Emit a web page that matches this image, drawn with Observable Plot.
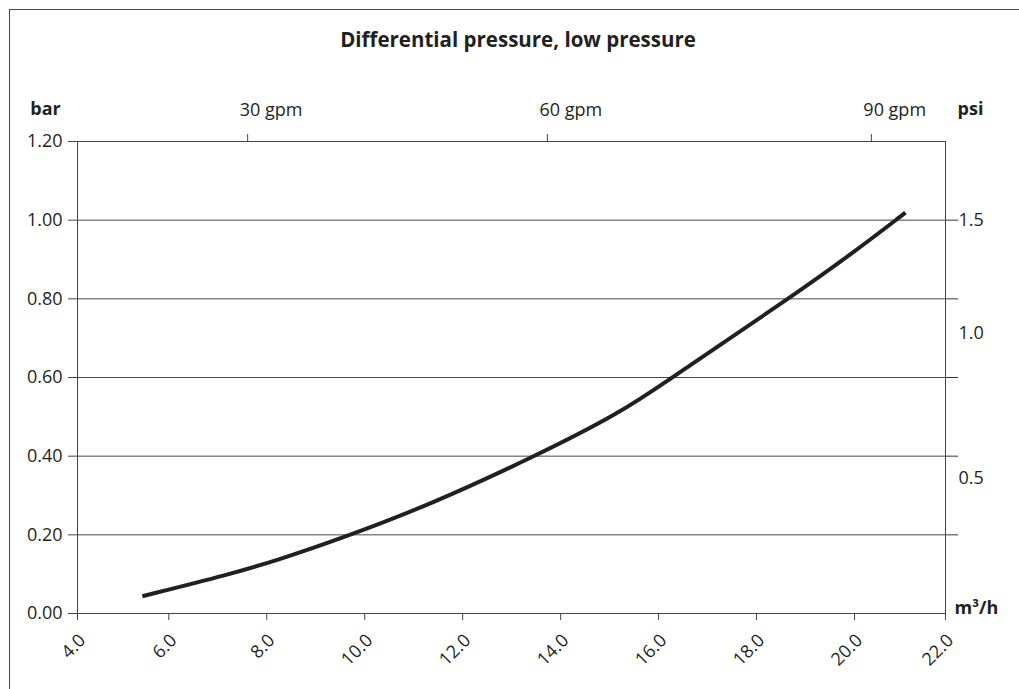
<!DOCTYPE html>
<html>
<head>
<meta charset="utf-8">
<script src="https://cdn.jsdelivr.net/npm/d3@7"></script>
<script src="https://cdn.jsdelivr.net/npm/@observablehq/plot@0.6"></script>
<style>
  html, body { margin: 0; padding: 0; background: #fff; }
  #wrap { position: relative; width: 1019px; height: 689px; overflow: hidden; font-family: "Open Sans", sans-serif; color: #231f20; }
  #border { position: absolute; left: 9px; top: 9px; width: 1100px; height: 800px; border-left: 1.5px solid #4a4a4a; border-top: 1.5px solid #4a4a4a; pointer-events: none; }
  #title { height: 60px; line-height: 20px; box-sizing: border-box; padding-top: 29px; font-weight: bold; font-size: 20.5px; text-align: center; padding-left: 17px; }
  #chart svg { display: block; }
</style>
</head>
<body>
<div id="wrap">
  <div id="border"></div>
  <div id="title">Differential pressure, low pressure</div>
  <div id="chart"></div>
</div>
<script>
// Flow (m³/h) and differential pressure (bar)
const flow = [5.42, 7.26, 8.28, 9.57, 11.34, 13.45, 15.22, 16.24, 17.26, 18.59, 19.92, 21.12];
const pressure = [0.044, 0.100, 0.138, 0.193, 0.277, 0.398, 0.510, 0.597, 0.683, 0.795, 0.912, 1.019];

// Axis ticks
const xTicks = [4, 6, 8, 10, 12, 14, 16, 18, 20, 22];
const yTicks = [0, 0.2, 0.4, 0.6, 0.8, 1.0, 1.2];
const gridTicks = [0.2, 0.4, 0.6, 0.8, 1.0];

// Secondary axes as printed (gpm on top, psi on right)
const gpmLabels = ["30 gpm", "60 gpm", "90 gpm"];
const gpmAt = [7.61, 13.73, 20.37];      // m³/h where the labels sit
const psiLabels = ["1.5", "1.0", "0.5"];
const psiAt = [1.0, 0.713, 0.344];         // bar where the labels sit

const data = flow.map((f, i) => ({flow: f, bar: pressure[i]}));
const gpmMap = new Map(gpmAt.map((v, i) => [v, gpmLabels[i]]));
const psiMap = new Map(psiAt.map((v, i) => [v, psiLabels[i]]));

const ink = "#231f20";
const axisColor = "#444";
const fs = 18;

const chart = Plot.plot({
  width: 1019,
  height: 629,
  marginLeft: 77,
  marginRight: 74,
  marginTop: 81,
  marginBottom: 76,
  style: {fontFamily: "'Open Sans', sans-serif", fontSize: fs + "px", color: ink, background: "transparent", overflow: "visible"},
  x: {type: "linear", domain: [4, 6, 20, 22], range: [77, 168.3, 854, 945]},
  y: {domain: [0, 1.2]},
  marks: [
    Plot.gridY(gridTicks, {stroke: "#333", strokeOpacity: 0.9}),
    Plot.frame({stroke: axisColor}),
    // left bar axis
    Plot.axisY(yTicks, {anchor: "left", tickSize: 9, tickPadding: 6, tickFormat: d3.format(".2f"), label: null, stroke: axisColor, fontSize: fs}),
    // right tick extensions of the grid
    Plot.axisY(gridTicks, {anchor: "right", tickSize: 12, tickFormat: () => "", label: null, stroke: "#333"}),
    // psi labels
    Plot.axisY(psiAt, {anchor: "right", tickSize: 0, tickPadding: 13, tickFormat: d => psiMap.get(d), label: null, fontSize: fs}),
    // bottom m³/h axis: ticks, then rotated labels
    Plot.axisX(xTicks, {anchor: "bottom", tickSize: 7, tickFormat: () => "", label: null, stroke: axisColor}),
    Plot.axisX(xTicks, {anchor: "bottom", tickSize: 0, tickPadding: 24, dx: 5, tickRotate: -45, tickFormat: d3.format(".1f"), label: null, fontSize: fs}),
    // top gpm axis: ticks, then labels
    Plot.axisX(gpmAt, {anchor: "top", tickSize: 8, tickFormat: () => "", label: null, stroke: axisColor}),
    Plot.axisX(gpmAt, {anchor: "top", tickSize: 0, tickPadding: 26, textAnchor: "start", dx: -8, tickFormat: d => gpmMap.get(d), label: null, fontSize: fs}),
    Plot.line(data, {x: "flow", y: "bar", stroke: ink, strokeWidth: 4, strokeLinecap: "butt", curve: "basis"}),
    Plot.text(["bar"], {frameAnchor: "top-left", textAnchor: "middle", lineAnchor: "middle", dx: -32, dy: -32, fontWeight: "bold", fontSize: 18, fill: ink}),
    Plot.text(["psi"], {frameAnchor: "top-right", textAnchor: "middle", lineAnchor: "middle", dx: 25, dy: -32, fontWeight: "bold", fontSize: 18, fill: ink}),
    Plot.text(["m³/h"], {frameAnchor: "bottom-right", textAnchor: "start", lineAnchor: "middle", dx: 9, dy: -5, fontWeight: "bold", fontSize: 18, fill: ink})
  ]
});
document.getElementById("chart").appendChild(chart);
</script>
</body>
</html>
